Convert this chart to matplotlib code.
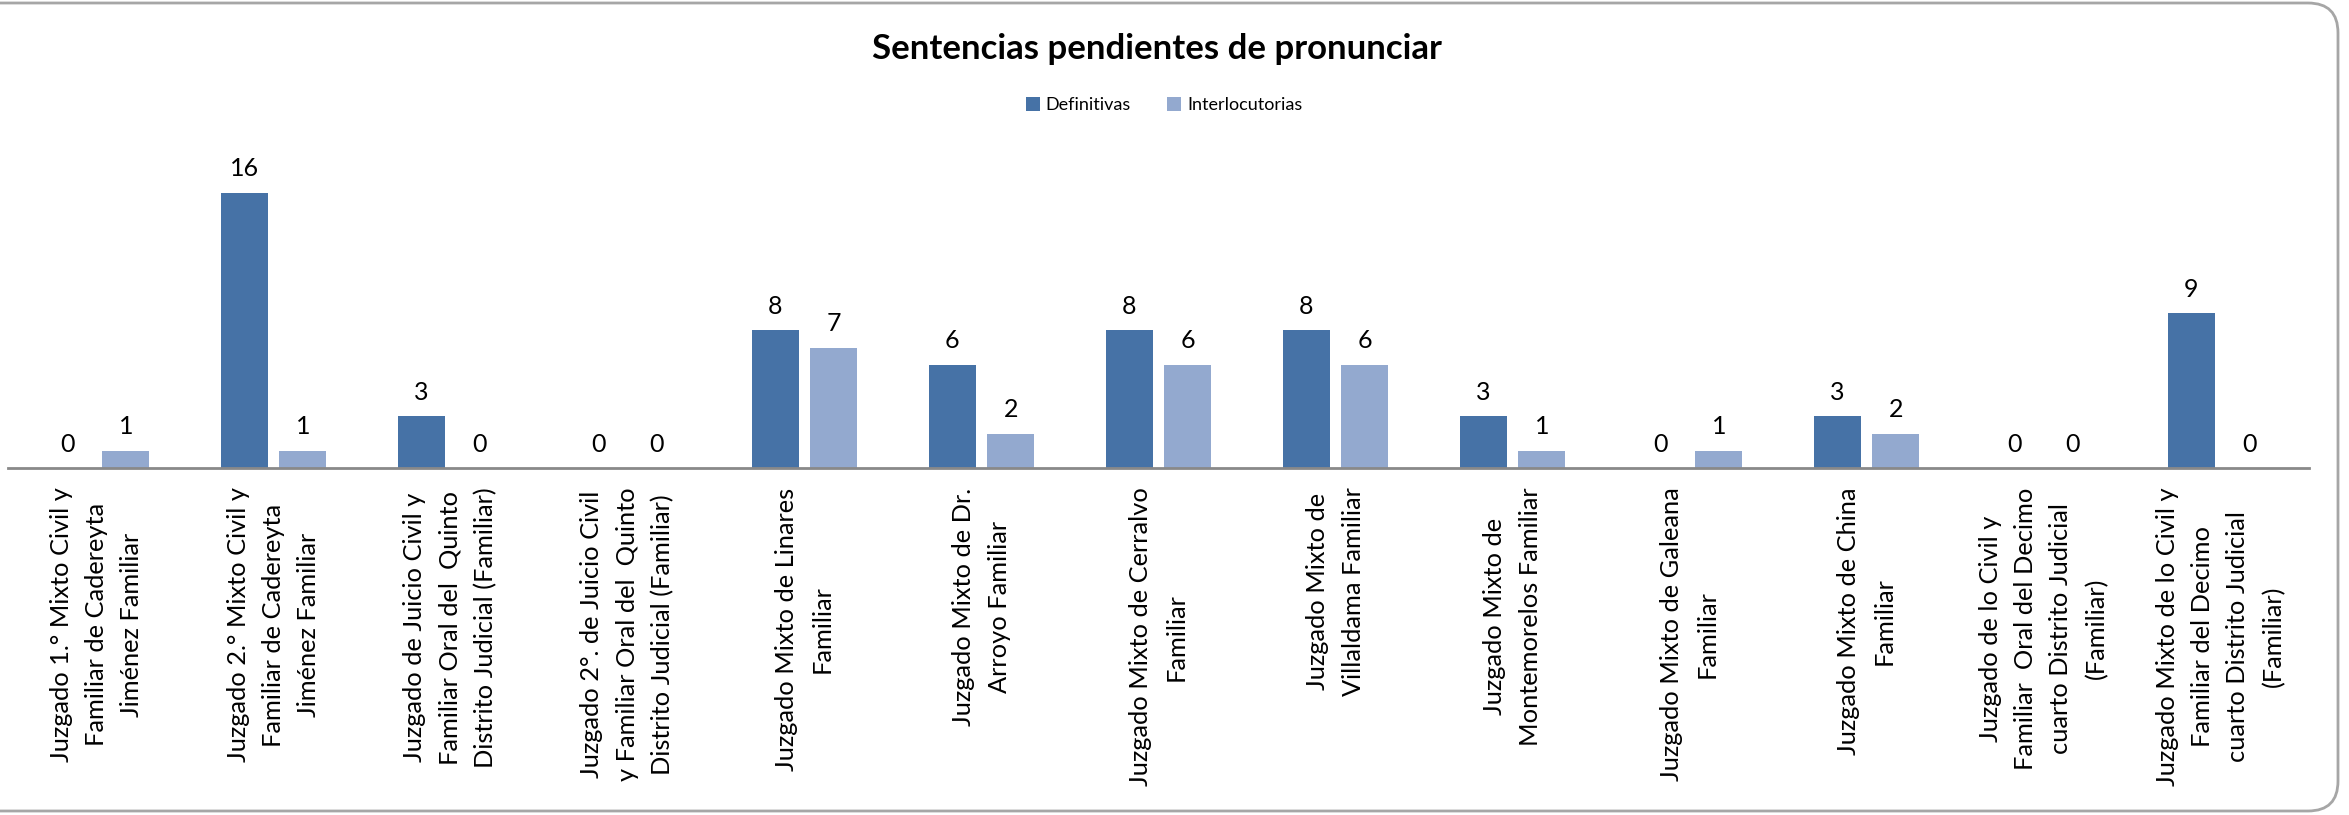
import matplotlib
matplotlib.use("Agg")
import matplotlib.pyplot as plt
from matplotlib.patches import FancyBboxPatch
from matplotlib.transforms import IdentityTransform
import numpy as np

# data
juzgados = [
    "Juzgado 1.° Mixto Civil y\nFamiliar de Cadereyta\nJiménez Familiar",
    "Juzgado 2.° Mixto Civil y\nFamiliar de Cadereyta\nJiménez Familiar",
    "Juzgado de Juicio Civil y\nFamiliar Oral del  Quinto\nDistrito Judicial (Familiar)",
    "Juzgado 2°. de Juicio Civil\ny Familiar Oral del  Quinto\nDistrito Judicial (Familiar)",
    "Juzgado Mixto de Linares\nFamiliar",
    "Juzgado Mixto de Dr.\nArroyo Familiar",
    "Juzgado Mixto de Cerralvo\nFamiliar",
    "Juzgado Mixto de\nVillaldama Familiar",
    "Juzgado Mixto de\nMontemorelos Familiar",
    "Juzgado Mixto de Galeana\nFamiliar",
    "Juzgado Mixto de China\nFamiliar",
    "Juzgado de lo Civil y\nFamiliar  Oral del Decimo\ncuarto Distrito Judicial\n(Familiar)",
    "Juzgado Mixto de lo Civil y\nFamiliar del Decimo\ncuarto Distrito Judicial\n(Familiar)",
]
definitivas = [0, 16, 3, 0, 8, 6, 8, 8, 3, 0, 3, 0, 9]
interlocutorias = [1, 1, 0, 0, 7, 2, 6, 6, 1, 1, 2, 0, 0]

dark = "#4672a6"
light = "#93a9cf"

plt.rcParams['font.family'] = ['Lato', 'DejaVu Sans']

W, H = 2349, 815
fig = plt.figure(figsize=(W / 100, H / 100), dpi=100)

# rounded chart frame in pixels (left edge is cut off in the original)
frame = FancyBboxPatch((-40, 4), 2338 + 40, 812 - 4,
                       boxstyle="round,pad=0,rounding_size=30",
                       transform=IdentityTransform(), facecolor="white",
                       edgecolor="#a6a6a6", linewidth=2, zorder=-5)
fig.patches.append(frame)

ax = fig.add_axes([8 / W, (H - 468) / H, 2301 / W, 18 * 17.2 / H])
ax.set_facecolor("none")

x = np.arange(len(juzgados))
w = 0.265
off = 0.165
b1 = ax.bar(x - off, definitivas, w, color=dark, label="Definitivas")
b2 = ax.bar(x + off, interlocutorias, w, color=light, label="Interlocutorias")

for bars, vals in ((b1, definitivas), (b2, interlocutorias)):
    for rect, v in zip(bars, vals):
        ax.annotate(str(v), (rect.get_x() + rect.get_width() / 2, v),
                    xytext=(0, 9), textcoords="offset points",
                    ha="center", va="bottom", fontsize=18)

ax.set_xlim(-0.5, len(juzgados) - 0.5)
ax.set_ylim(0, 18)
ax.set_xticks(x)
ax.set_xticklabels(juzgados, rotation=90, fontsize=18.3, linespacing=1.65,
                   multialignment="center")
ax.tick_params(axis="x", length=0, pad=14)
ax.set_yticks([])
for s in ("top", "right", "left"):
    ax.spines[s].set_visible(False)
ax.spines["bottom"].set_color("#898989")
ax.spines["bottom"].set_linewidth(2)

fig.text(1157 / W, 1 - 49 / H, "Sentencias pendientes de pronunciar",
         ha="center", va="center", fontsize=25, fontweight="bold")

fig.legend(loc="center", bbox_to_anchor=(1164 / W, 1 - 105 / H), ncol=2,
           frameon=False, fontsize=13, handlelength=0.8, handleheight=0.8,
           handletextpad=0.3, columnspacing=2.0)

fig.savefig("out.png", dpi=100)
